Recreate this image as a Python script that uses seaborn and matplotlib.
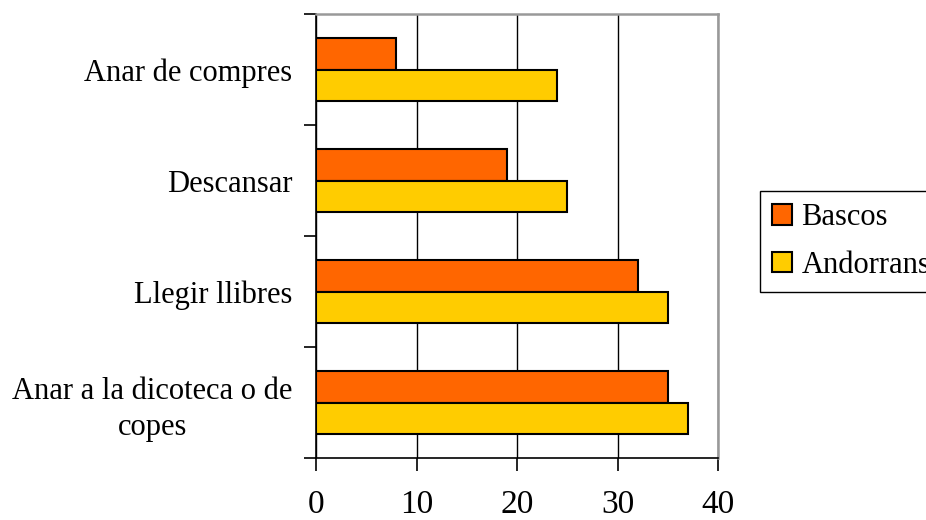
import numpy as np
import pandas as pd
import matplotlib
matplotlib.use('Agg')
import matplotlib.pyplot as plt
from matplotlib.ticker import MultipleLocator
import seaborn as sns

# data
activitats = ['Anar de compres', 'Descansar', 'Llegir llibres', 'Anar a la dicoteca o de\ncopes']
bascos     = [8, 19, 32, 35]
andorrans  = [24, 25, 35, 37]
grups      = ['Bascos', 'Andorrans']
colors     = ['#FF6600', '#FFCC00']

df = pd.DataFrame({
	'activitat': activitats * 2,
	'valor': bascos + andorrans,
	'grup': [grups[0]] * len(activitats) + [grups[1]] * len(activitats),
})

sns.set_style('white')
plt.rcParams['font.family'] = ['Liberation Serif', 'DejaVu Serif']
plt.rcParams['text.color'] = 'black'
plt.rcParams['xtick.color'] = 'black'
plt.rcParams['ytick.color'] = 'black'

_fs  = 22   # category / legend labels
_xfs = 24   # x tick labels

fig = plt.figure(figsize=(9.26, 5.20), dpi=100)
ax = fig.add_axes([316/926, 1-458/520, (718-316)/926, (458-14)/520])

sns.barplot(data=df, y='activitat', x='valor', hue='grup', order=activitats,
	hue_order=grups, palette=colors, orient='h', width=0.56,
	edgecolor='black', linewidth=1.5, saturation=1, ax=ax)

ax.set_xlim(0, 40)
ax.set_ylim(len(activitats)-0.5, -0.5)
ax.xaxis.set_major_locator(MultipleLocator(10))
ax.set_xlabel('')
ax.set_ylabel('')

# gridlines
ax.grid(axis='x', color='black', lw=1)
ax.grid(axis='y', visible=False)
ax.set_axisbelow(True)

# spines
for s in ['left', 'bottom']:
	ax.spines[s].set_color('black')
	ax.spines[s].set_linewidth(1.2)
for s in ['top', 'right']:
	ax.spines[s].set_color('#999999')
	ax.spines[s].set_linewidth(1.8)

# ticks: y ticks on category boundaries, labels at centres
ax.set_yticks(np.arange(len(activitats)+1)-0.5, minor=True)
ax.tick_params(axis='y', which='major', length=0, pad=17, labelsize=_fs, labelcolor='black')
ax.tick_params(axis='y', which='minor', length=9, width=1.2, color='black', direction='out', left=True)
ax.tick_params(axis='x', which='major', length=9, width=1.2, color='black', direction='out', bottom=True, pad=14, labelsize=_xfs, labelcolor='black')
for t in ax.get_yticklabels():
	t.set_multialignment('center')
	t.set_linespacing(1.3)

# legend off to the right, clipped by the figure edge like the original
handles, labels = ax.get_legend_handles_labels()
if ax.get_legend() is not None:
	ax.get_legend().remove()
leg = fig.legend(handles, labels, loc='upper left', bbox_to_anchor=(760/926, 1-191/520),
	fontsize=_fs, frameon=True, fancybox=False, edgecolor='black', framealpha=1,
	handlelength=0.65, handleheight=0.65, handletextpad=0.3, labelspacing=0.6,
	borderpad=0.4, borderaxespad=0)
leg.get_frame().set_linewidth(1.0)

fig.savefig('out.png', dpi=100)
